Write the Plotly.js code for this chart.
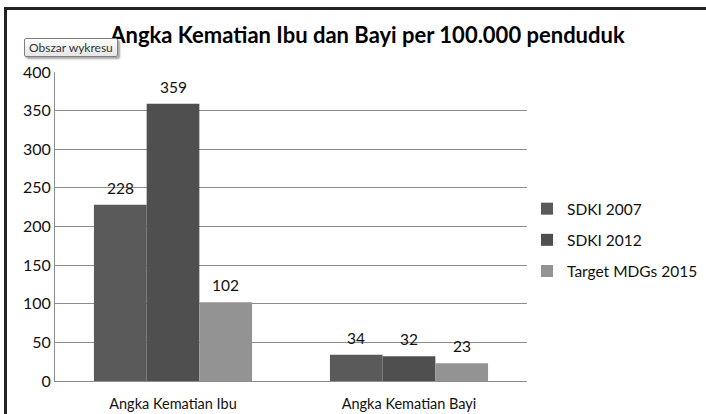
<!DOCTYPE html>
<html>
<head>
<meta charset="utf-8">
<script src="https://cdn.plot.ly/plotly-3.0.1.min.js"></script>
<style>
html,body{margin:0;padding:0;background:#fff;}
#wrap{position:relative;width:706px;height:414px;overflow:hidden;}
#chart{position:absolute;left:0;top:0;width:706px;height:414px;}
#frame{position:absolute;left:4px;top:7px;width:720px;height:420px;border-left:3px solid #222;border-top:3px solid #222;pointer-events:none;}
</style>
</head>
<body>
<div id="wrap"><div id="chart"></div><div id="frame"></div></div>
<script>
const categories = ["Angka Kematian Ibu", "Angka Kematian Bayi"];
const seriesNames = ["SDKI 2007", "SDKI 2012", "Target MDGs 2015"];
const sdki2007 = [228, 34];
const sdki2012 = [359, 32];
const target2015 = [102, 23];
const yTicks = [0, 50, 100, 150, 200, 250, 300, 350, 400];

const seriesValues = [sdki2007, sdki2012, target2015];
const colors = ["#5a5a5a", "#4f4f4f", "#939393"];
const FONT = "Lato, 'Liberation Sans', sans-serif";

const traces = seriesValues.map((vals, i) => ({
  type: "bar",
  name: seriesNames[i],
  x: categories,
  y: vals,
  marker: {color: colors[i], line: {width: 0}},
  legendgroup: "g" + i,
  hoverinfo: "none"
}));

const bargap = 0.33;
const barW = (1 - bargap) / 3;
const annotations = [];
seriesValues.forEach((vals, i) => {
  vals.forEach((v, j) => {
    annotations.push({
      x: j + (i - 1) * barW, y: v, xref: "x", yref: "y",
      text: String(v), showarrow: false, yanchor: "bottom", yshift: 6,
      font: {family: FONT, size: 15.5, color: "#111"}
    });
  });
});

const layout = {
  width: 706, height: 414,
  margin: {l: 55, r: 179, t: 72, b: 33, autoexpand: false},
  paper_bgcolor: "rgba(0,0,0,0)",
  plot_bgcolor: "#fff",
  barmode: "group",
  bargap: bargap,
  bargroupgap: 0,
  title: {
    text: "<b>Angka Kematian Ibu dan Bayi per 100.000 penduduk</b>",
    font: {family: FONT, size: 22, color: "#000"},
    x: 0.5205, xanchor: "center", y: 0.915, yanchor: "middle"
  },
  xaxis: {
    type: "category",
    tickfont: {family: FONT, size: 14.5, color: "#111"},
    showline: true, linecolor: "#8c8c8c", linewidth: 1,
    ticks: "", showgrid: false, fixedrange: true,
    ticklabelstandoff: 10
  },
  yaxis: {
    range: [0, 400],
    tickvals: yTicks,
    ticktext: yTicks.map(String),
    tickfont: {family: FONT, size: 16, color: "#111"},
    showgrid: true, gridcolor: "#8c8c8c", gridwidth: 1,
    showline: true, linecolor: "#8c8c8c", linewidth: 1,
    zeroline: false, ticks: "", ticklen: 0,
    fixedrange: true
  },
  legend: {
    x: 1.0, xanchor: "left", y: 0.456, yanchor: "middle",
    font: {family: FONT, size: 15.5, color: "#111"},
    tracegroupgap: 8,
    bgcolor: "rgba(0,0,0,0)"
  },
  annotations: annotations,
  showlegend: true
};

Plotly.newPlot("chart", traces, layout, {displayModeBar: false, staticPlot: true}).then(function (gd) {
  // tooltip box ("Obszar wykresu") drawn as HTML on top of the chart, like the Excel hover tip
  const tip = document.createElement("div");
  tip.textContent = "Obszar wykresu";
  tip.style.cssText = "position:absolute;left:24px;top:38px;padding:1px 4px;" +
    "font:12px Lato, 'Liberation Sans', sans-serif;color:#333;" +
    "background:linear-gradient(#fdfdfd,#e6e6e6);border:1px solid #808080;border-radius:2px;" +
    "box-shadow:2px 2px 2px rgba(0,0,0,0.35);line-height:15px;white-space:nowrap;";
  document.getElementById("wrap").appendChild(tip);
});
</script>
</body>
</html>
